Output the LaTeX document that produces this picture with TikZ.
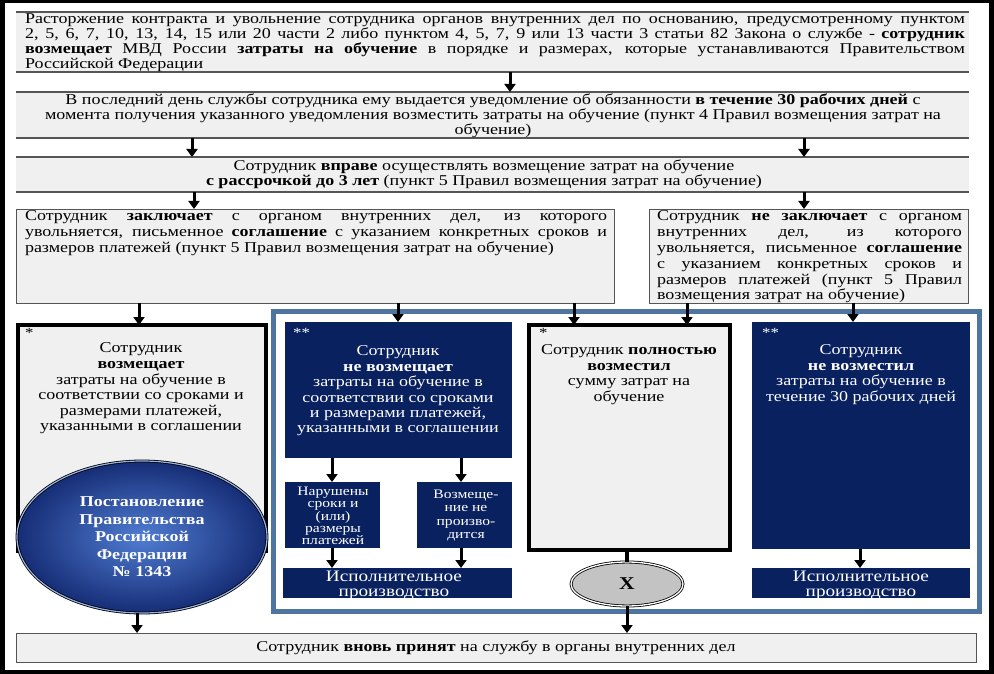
\documentclass[tikz,border=0pt]{standalone}
\usepackage{fontspec}
\setmainfont{Liberation Serif}[FakeStretch=1.2]
\usetikzlibrary{shapes.geometric,arrows.meta,calc}
\definecolor{navy}{RGB}{10,33,96}
\definecolor{frameblue}{RGB}{78,116,160}
\definecolor{lgrey}{RGB}{240,240,240}
\definecolor{rulegrey}{RGB}{85,85,85}
\definecolor{ellin}{RGB}{80,125,210}
\definecolor{ellout}{RGB}{22,45,118}
\definecolor{xgrey}{RGB}{195,195,195}
\begin{document}
\begin{tikzpicture}[x=1pt,y=-1pt,
  rect/.style={rectangle, inner sep=0pt, outer sep=0pt, anchor=north west},
  greybar/.style={rect, fill=lgrey},
  framebox/.style={rect, fill=lgrey, draw=rulegrey, line width=0.9pt},
  thickbox/.style={rect, fill=lgrey, draw=black, line width=4pt},
  navybox/.style={rect, fill=navy},
  rulel/.style={draw=rulegrey, line width=1.2pt},
  txt/.style={inner sep=0pt, outer sep=0pt},
  fbody/.style={font=\fontsize{15}{15}\selectfont},
  arr/.style={line width=3pt, -{Triangle[width=11pt,length=8pt]}},
  starmark/.style={inner sep=0pt, anchor=north west, font=\fontsize{14}{14}\selectfont},
]
\useasboundingbox (0,0) rectangle (994,674);
% outer frame
\fill[black] (0,0) rectangle (994,674);
\node[rect, fill=white, minimum width=984pt, minimum height=667pt] (page) at (5,3) {};

% box 1
\node[greybar, minimum width=953pt, minimum height=60pt] (b1) at (16,12) {};
\draw[rulel] (b1.north west) -- (b1.north east);
\draw[rulel] (b1.south west) -- (b1.south east);
\node[txt, fbody, text width=940pt, align=justify, anchor=north west] (t1) at (25,13.5)
{Расторжение контракта и увольнение сотрудника органов внутренних дел по основанию, предусмотренному пунктом\linebreak
2, 5, 6, 7, 10, 13, 14, 15 или 20 части 2 либо пунктом 4, 5, 7, 9 или 13 части 3 статьи 82 Закона о службе - \textbf{сотрудник}\linebreak
\textbf{возмещает} МВД России \textbf{затраты на обучение} в порядке и размерах, которые устанавливаются Правительством\linebreak
Российской Федерации};

% box 2
\node[greybar, minimum width=953pt, minimum height=46pt] (b2) at (16,92) {};
\draw[rulel] (b2.north west) -- (b2.north east);
\draw[rulel] (b2.south west) -- (b2.south east);
\node[txt, fbody, align=center, anchor=north] (t2) at (493,93.5)
{В последний день службы сотрудника ему выдается уведомление об обязанности \textbf{в течение 30 рабочих дней} с\\
момента получения указанного уведомления возместить затраты на обучение (пункт 4 Правил возмещения затрат на\\
обучение)};

% box 3
\node[greybar, minimum width=953pt, minimum height=35pt] (b3) at (16,157) {};
\draw[rulel] (b3.north west) -- (b3.north east);
\draw[rulel] (b3.south west) -- (b3.south east);
\node[txt, fbody, align=center, anchor=north] (t3) at (484,160)
{Сотрудник \textbf{вправе} осуществлять возмещение затрат на обучение\\
\textbf{с рассрочкой до 3 лет} (пункт 5 Правил возмещения затрат на обучение)};

% box 4 left / right
\node[framebox, minimum width=598pt, minimum height=94pt] (b4l) at (16,209) {};
\node[txt, font=\fontsize{15}{15.8}\selectfont, text width=582pt, align=justify, anchor=north west] (t4l) at (25,211)
{Сотрудник \textbf{заключает} с органом внутренних дел, из которого\linebreak
увольняется, письменное \textbf{соглашение} с указанием конкретных сроков и\linebreak
размеров платежей (пункт 5 Правил возмещения затрат на обучение)};
\node[framebox, minimum width=319pt, minimum height=94pt] (b4r) at (649,209) {};
\node[txt, font=\fontsize{15}{15.8}\selectfont, text width=305pt, align=justify, anchor=north west] (t4r) at (657,211)
{Сотрудник \textbf{не заключает} с органом\linebreak
внутренних дел, из которого\linebreak
увольняется, письменное \textbf{соглашение}\linebreak
с указанием конкретных сроков и\linebreak
размеров платежей (пункт 5 Правил\linebreak
возмещения затрат на обучение)};

% blue frame
\node[rect, draw=frameblue, line width=5pt, minimum width=706pt, minimum height=300pt] (bf) at (273,311) {};

% box 5 (left thick)
\node[thickbox, minimum width=248pt, minimum height=226pt] (b5) at (18,325) {};
\node[starmark] (s5) at (25,328) {*};
\node[txt, font=\fontsize{15}{15.6}\selectfont, align=center, anchor=north] (t5) at (141,343)
{Сотрудник\\\textbf{возмещает}\\затраты на обучение в\\соответствии со сроками и\\размерами платежей,\\указанными в соглашении};

% ellipse
\node[ellipse, minimum width=250pt, minimum height=152pt, inner sep=0pt,
      inner color=ellin, outer color=ellout, draw=black, line width=0.8pt,
      double=ellin!60!white, double distance=1.2pt,
      text=white, align=center, font=\fontsize{15}{17.5}\selectfont\bfseries] (ell) at (142,537)
{Постановление\\Правительства\\Российской\\Федерации\\№ 1343};

% navy box 1
\node[navybox, minimum width=227pt, minimum height=136pt] (nv1) at (285,322) {};
\node[starmark, text=white] (s1) at (293,328) {**};
\node[txt, font=\fontsize{15}{15.4}\selectfont, text=white, align=center, anchor=north] (tn1) at (398,346)
{Сотрудник\\\textbf{не возмещает}\\затраты на обучение в\\соответствии со сроками\\и размерами платежей,\\указанными в соглашении};

% small boxes
\node[navybox, minimum width=95pt, minimum height=66pt] (sm1) at (285,482) {};
\node[txt, font=\fontsize{13}{12.3}\selectfont, text=white, align=center, anchor=north] (ts1) at (333,487)
{Нарушены\\сроки и\\(или)\\размеры\\платежей};
\node[navybox, minimum width=95pt, minimum height=66pt] (sm2) at (417,482) {};
\node[txt, font=\fontsize{13}{13.3}\selectfont, text=white, align=center, anchor=north] (ts2) at (466,490)
{Возмеще-\\ние не\\произво-\\дится};

% isp 1
\node[navybox, minimum width=229pt, minimum height=30pt] (isp1) at (283,568) {};
\node[txt, font=\fontsize{16}{15.5}\selectfont, text=white, align=center, anchor=north] (ti1) at (394,571)
{Исполнительное\\производство};

% box 6 thick
\node[thickbox, minimum width=201pt, minimum height=225pt] (b6) at (529,325) {};
\node[starmark] (s6) at (539,328) {*};
\node[txt, font=\fontsize{15}{15.4}\selectfont, align=center, anchor=north] (t6) at (629,345)
{Сотрудник \textbf{полностью}\\\textbf{возместил}\\сумму затрат на\\обучение};

% ellipse X
\node[ellipse, minimum width=112pt, minimum height=44pt, inner sep=0pt, fill=xgrey,
      draw=black, line width=0.8pt, double=white, double distance=1.3pt,
      font=\fontsize{18}{18}\selectfont\bfseries] (ellx) at (627,584) {X};

% navy box 2
\node[navybox, minimum width=218pt, minimum height=227pt] (nv2) at (752,322) {};
\node[starmark, text=white] (s2) at (762,328) {**};
\node[txt, font=\fontsize{15}{15.4}\selectfont, text=white, align=center, anchor=north] (tn2) at (861,345)
{Сотрудник\\\textbf{не возместил}\\затраты на обучение в\\течение 30 рабочих дней};

% isp 2
\node[navybox, minimum width=218pt, minimum height=30pt] (isp2) at (752,568) {};
\node[txt, font=\fontsize{16}{15.5}\selectfont, text=white, align=center, anchor=north] (ti2) at (861,571)
{Исполнительное\\производство};

% bottom box
\node[framebox, minimum width=960pt, minimum height=29pt] (b7) at (16,633) {};
\node[txt, fbody, anchor=center] (t7) at (496,648)
{Сотрудник \textbf{вновь принят} на службу в органы внутренних дел};

% arrow x positions
\coordinate (xa) at (510,0);
\coordinate (xb) at (192,0);
\coordinate (xc) at (804,0);
\coordinate (xd) at (194,0);
\coordinate (xe) at (139,0);
\coordinate (xf) at (398,0);
\coordinate (xg) at (574,0);
\coordinate (xh) at (687,0);
\coordinate (xi) at (853,0);
\coordinate (xj) at (332,0);
\coordinate (xk) at (461,0);
\coordinate (xl) at (860,0);
\coordinate (xm) at (137,0);

\draw[arr] (b1.south -| xa) -- (b2.north -| xa);
\draw[arr] (b2.south -| xb) -- (b3.north -| xb);
\draw[arr] (b2.south -| xc) -- (b3.north -| xc);
\draw[arr] (b3.south -| xd) -- (b4l.north -| xd);
\draw[arr] (b3.south -| xc) -- (b4r.north -| xc);
\draw[arr] (b4l.south -| xe) -- (b5.north -| xe);
\draw[arr] (b4l.south -| xf) -- (nv1.north -| xf);
\draw[arr] (b4l.south -| xg) -- (b6.north -| xg);
\draw[arr] (b4r.south -| xh) -- (b6.north -| xh);
\draw[arr] (b4r.south -| xi) -- (nv2.north -| xi);
\draw[arr] (nv1.south -| xj) -- (sm1.north -| xj);
\draw[arr] (nv1.south -| xk) -- (sm2.north -| xk);
\draw[arr] (sm1.south -| xj) -- (isp1.north -| xj);
\draw[arr] (sm2.south -| xk) -- (isp1.north -| xk);
\draw[arr] (nv2.south -| xl) -- (isp2.north -| xl);
\draw[line width=4pt] (b6.south -| ellx) -- (ellx.north);
\draw[arr] (ell.south -| xm) -- (b7.north -| xm);
\draw[arr] (ellx.south) -- (b7.north -| ellx);
\end{tikzpicture}
\end{document}
